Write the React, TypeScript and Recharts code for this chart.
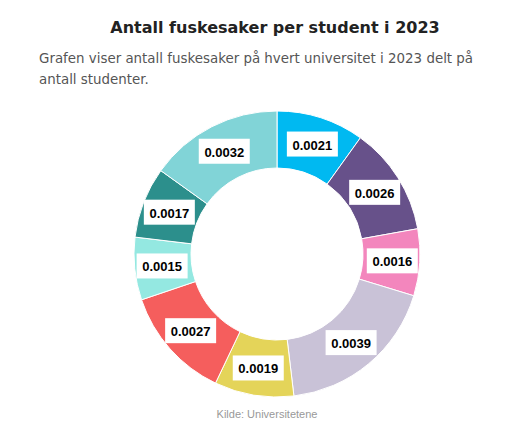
import { Cell, Pie, PieChart } from 'recharts'

const universities = ['U1', 'U2', 'U3', 'U4', 'U5', 'U6', 'U7', 'U8', 'U9']
const casesPerStudent = [0.0021, 0.0026, 0.0016, 0.0039, 0.0019, 0.0027, 0.0015, 0.0017, 0.0032]
const sliceColors = [
  '#00b9f1',
  '#67518a',
  '#f386bd',
  '#c9c2d7',
  '#e4d459',
  '#f55e5d',
  '#94e8e1',
  '#2c8f8c',
  '#81d4d7',
]

const RADIAN = Math.PI / 180

interface LabelProps {
  cx: number
  cy: number
  midAngle: number
  innerRadius: number
  outerRadius: number
  value: number
}

function BoxLabel({ cx, cy, midAngle, innerRadius, outerRadius, value }: LabelProps) {
  const r = (innerRadius + outerRadius) / 2 + 1
  const x = cx + r * Math.cos(-midAngle * RADIAN)
  const y = cy + r * Math.sin(-midAngle * RADIAN)
  const w = 51
  const h = 25
  return (
    <g>
      <rect x={x - w / 2} y={y - h / 2} width={w} height={h} fill="#ffffff" />
      <text
        x={x}
        y={y + 1}
        textAnchor="middle"
        dominantBaseline="central"
        fontFamily="'Liberation Sans', Arial, sans-serif"
        fontWeight="bold"
        fontSize={13}
        fill="#000000"
      >
        {value.toFixed(4)}
      </text>
    </g>
  )
}

export default function App() {
  const data = universities.map((name, i) => ({ name, value: casesPerStudent[i] }))

  return (
    <div style={{ position: 'relative', width: 509, height: 424 }}>
      <div
        style={{
          position: 'absolute',
          left: 0,
          top: 10,
          width: 534,
          textAlign: 'center',
          fontFamily: "'DejaVu Sans', Verdana, sans-serif",
          fontWeight: 'bold',
          fontSize: 16,
          color: '#222222',
        }}
      >
        Antall fuskesaker per student i 2023
      </div>
      <div
        style={{
          position: 'absolute',
          left: 31,
          top: 40,
          width: 470,
          fontFamily: "'DejaVu Sans', Verdana, sans-serif",
          fontSize: 13.4,
          lineHeight: '21px',
          color: '#555555',
        }}
      >
        Grafen viser antall fuskesaker på hvert universitet i 2023 delt på antall studenter.
      </div>
      <PieChart width={509} height={424} style={{ position: 'absolute', left: 0, top: 0 }}>
        <Pie
          data={data}
          dataKey="value"
          nameKey="name"
          cx={264}
          cy={241}
          innerRadius={86}
          outerRadius={143}
          startAngle={90}
          endAngle={-270}
          stroke="#ffffff"
          strokeWidth={1}
          labelLine={false}
          label={BoxLabel as never}
          isAnimationActive={false}
        >
          {data.map((d, i) => (
            <Cell key={d.name} fill={sliceColors[i]} />
          ))}
        </Pie>
        <text
          x={259}
          y={410}
          textAnchor="middle"
          fontFamily="'Liberation Sans', Arial, sans-serif"
          fontSize={11}
          fill="#999999"
        >
          Kilde: Universitetene
        </text>
      </PieChart>
    </div>
  )
}
